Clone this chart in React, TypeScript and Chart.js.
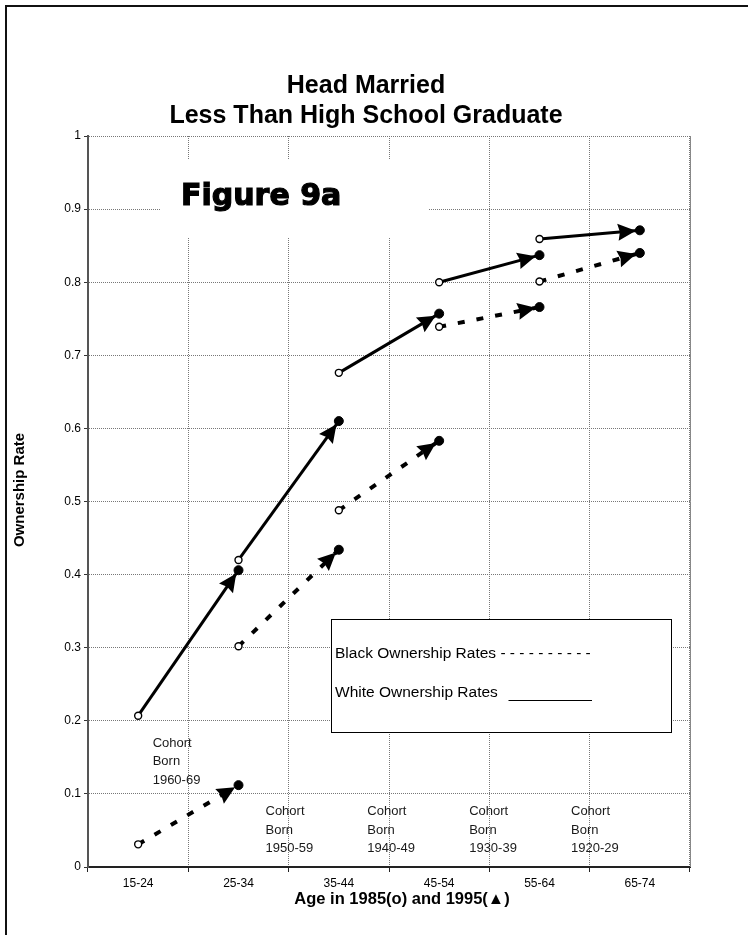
import React, { useEffect, useRef } from 'react';
import { Chart, registerables } from 'chart.js';

Chart.register(...registerables);

const ageGroups = ['15-24', '25-34', '35-44', '45-54', '55-64', '65-74'];
const cohortNames = ['1960-69', '1950-59', '1940-49', '1930-39', '1920-29'];
const white1985 = [0.207, 0.42, 0.676, 0.8, 0.859];
const white1995 = [0.406, 0.61, 0.757, 0.837, 0.871];
const black1985 = [0.031, 0.302, 0.488, 0.739, 0.801];
const black1995 = [0.112, 0.434, 0.583, 0.766, 0.84];
const yTickLabels = ['0', '0.1', '0.2', '0.3', '0.4', '0.5', '0.6', '0.7', '0.8', '0.9', '1'];

const titleLines = ['Head Married', 'Less Than High School Graduate'];
const figureLabel = 'Figure 9a';
const xTitle = 'Age in 1985(o) and 1995(\u25B2)';
const yTitle = 'Ownership Rate';
const legendBlack = 'Black Ownership Rates - - - - - - - - - -';
const legendWhite = 'White Ownership Rates';

const SANS = '"Liberation Sans", Arial, Helvetica, sans-serif';

function segment(i: number, v85: number, v95: number) {
  const arr: (number | null)[] = ageGroups.map(() => null);
  arr[i] = v85;
  arr[i + 1] = v95;
  return arr;
}

function makeDataset(kind: 'white' | 'black', i: number) {
  const v85 = kind === 'white' ? white1985[i] : black1985[i];
  const v95 = kind === 'white' ? white1995[i] : black1995[i];
  const data = segment(i, v85, v95);
  return {
    label: `${kind} ${cohortNames[i]}`,
    data,
    borderColor: '#000',
    borderWidth: kind === 'white' ? 3 : 4,
    borderDash: kind === 'white' ? [] : [7, 12],
    tension: 0,
    spanGaps: false,
    pointRadius: data.map((_, k) => (k === i ? 3.5 : 4.5)),
    pointBackgroundColor: data.map((_, k) => (k === i ? '#fff' : '#000')),
    pointBorderColor: '#000',
    pointBorderWidth: data.map((_, k) => (k === i ? 1.4 : 1)),
    clip: false as any,
    segStart: i,
  };
}

const overlayPlugin = {
  id: 'overlay',
  afterDatasetsDraw(chart: any) {
    const ctx = chart.ctx;
    // arrowheads
    chart.data.datasets.forEach((ds: any, d: number) => {
      const meta = chart.getDatasetMeta(d);
      const i = ds.segStart;
      const p0 = meta.data[i];
      const p1 = meta.data[i + 1];
      if (!p0 || !p1) return;
      const dx = p1.x - p0.x;
      const dy = p1.y - p0.y;
      const len = Math.hypot(dx, dy);
      const ux = dx / len;
      const uy = dy / len;
      const tipX = p1.x - ux * 4;
      const tipY = p1.y - uy * 4;
      const bx = tipX - ux * 18;
      const by = tipY - uy * 18;
      const hw = 8.5;
      ctx.save();
      ctx.fillStyle = '#000';
      ctx.beginPath();
      ctx.moveTo(tipX, tipY);
      ctx.lineTo(bx - uy * hw, by + ux * hw);
      ctx.lineTo(bx + ux * 2, by + uy * 2);
      ctx.lineTo(bx + uy * hw, by - ux * hw);
      ctx.closePath();
      ctx.fill();
      ctx.restore();
    });
  },
  afterDraw(chart: any) {
    const ctx = chart.ctx;
    const xs = chart.scales.x;
    const area = chart.chartArea;
    ctx.save();
    // outer frame
    ctx.fillStyle = '#111';
    ctx.fillRect(5, 5, 2, chart.height);
    ctx.fillRect(5, 5, chart.width, 2);
    // right border of plot
    ctx.strokeStyle = '#888';
    ctx.lineWidth = 1;
    ctx.beginPath();
    ctx.moveTo(area.right + 0.5, area.top);
    ctx.lineTo(area.right + 0.5, area.bottom);
    ctx.stroke();

    // title
    ctx.fillStyle = '#000';
    ctx.textAlign = 'center';
    ctx.textBaseline = 'alphabetic';
    ctx.font = `bold 25px ${SANS}`;
    ctx.fillText(titleLines[0], 366, 93);
    ctx.fillText(titleLines[1], 366, 123);

    // Figure label box
    ctx.fillStyle = '#fff';
    ctx.fillRect(160, 160, 268, 77);
    ctx.fillStyle = '#000';
    ctx.strokeStyle = '#000';
    ctx.lineWidth = 1.2;
    ctx.textAlign = 'left';
    ctx.font = `bold 30px "DejaVu Sans", ${SANS}`;
    ctx.fillText(figureLabel, 181, 205);
    ctx.strokeText(figureLabel, 181, 205);

    // axis titles
    ctx.font = `bold 16.5px ${SANS}`;
    ctx.textAlign = 'center';
    ctx.fillText(xTitle, 402, 904);
    ctx.save();
    ctx.translate(24, 490);
    ctx.rotate(-Math.PI / 2);
    ctx.font = `bold 15px ${SANS}`;
    ctx.textBaseline = 'alphabetic';
    ctx.fillText(yTitle, 0, 0);
    ctx.restore();

    // cohort labels
    ctx.font = `13px ${SANS}`;
    ctx.fillStyle = '#1a1a1a';
    ctx.textAlign = 'left';
    cohortNames.forEach((name, i) => {
      const cx = xs.getPixelForValue(i);
      const x = i === 0 ? cx + 14.5 : cx + 27 + (i - 1) * 1.5;
      const y0 = i === 0 ? 746.7 : 815.3;
      ['Cohort', 'Born', name].forEach((t, k) => ctx.fillText(t, x, y0 + k * 18.5));
    });

    // legend box
    ctx.fillStyle = '#fff';
    ctx.fillRect(332, 619.5, 340, 113);
    ctx.strokeStyle = '#000';
    ctx.lineWidth = 1;
    ctx.strokeRect(331.5, 619.5, 340, 113);
    ctx.fillStyle = '#000';
    ctx.font = `15.5px ${SANS}`;
    ctx.fillText(legendBlack, 335, 658);
    ctx.fillText(legendWhite, 335, 697);
    ctx.beginPath();
    ctx.moveTo(508.5, 700.5);
    ctx.lineTo(592, 700.5);
    ctx.stroke();
    ctx.restore();
  },
};

export default function App() {
  const ref = useRef<HTMLCanvasElement | null>(null);
  useEffect(() => {
    if (!ref.current) return;
    const datasets: any[] = [];
    cohortNames.forEach((_, i) => {
      datasets.push(makeDataset('white', i));
      datasets.push(makeDataset('black', i));
    });
    const chart = new Chart(ref.current, {
      type: 'line',
      data: { labels: ageGroups, datasets },
      options: {
        animation: false,
        responsive: false,
        maintainAspectRatio: false,
        layout: { padding: { left: 0, top: 136, right: 748 - 690, bottom: 935 - 867 - 25 } },
        plugins: {
          legend: { display: false },
          title: { display: false },
          tooltip: { enabled: false },
        },
        scales: {
          x: {
            type: 'category',
            offset: true,
            grid: {
              offset: true,
              color: '#777',
              lineWidth: 1,
              drawTicks: true,
              tickLength: 5,
              tickColor: '#222',
              tickBorderDash: [],
            },
            border: { display: true, color: '#222', width: 2, dash: [1, 1] },
            ticks: {
              color: '#000',
              font: { family: SANS, size: 12 },
              padding: 4,
              maxRotation: 0,
              autoSkip: false,
            },
            afterFit: (s: any) => {
              s.height = 25;
            },
          },
          y: {
            min: 0,
            max: 1,
            grid: {
              color: '#777',
              lineWidth: 1,
              drawTicks: true,
              tickLength: 4,
              tickColor: '#333',
              tickBorderDash: [],
            },
            border: { display: true, color: '#555', width: 2, dash: [1, 1] },
            ticks: {
              stepSize: 0.1,
              color: '#000',
              font: { family: SANS, size: 12 },
              padding: 3,
              callback: (v: any) => yTickLabels[Math.round(Number(v) * 10)],
            },
            afterFit: (s: any) => {
              s.width = 88;
            },
          },
        },
      } as any,
      plugins: [overlayPlugin],
    });
    return () => chart.destroy();
  }, []);
  return (
    <div style={{ position: 'absolute', left: 0, top: 0, width: 748, height: 935, background: '#fff' }}>
      <canvas ref={ref} width={748} height={935} style={{ display: 'block', width: 748, height: 935 }} />
    </div>
  );
}
